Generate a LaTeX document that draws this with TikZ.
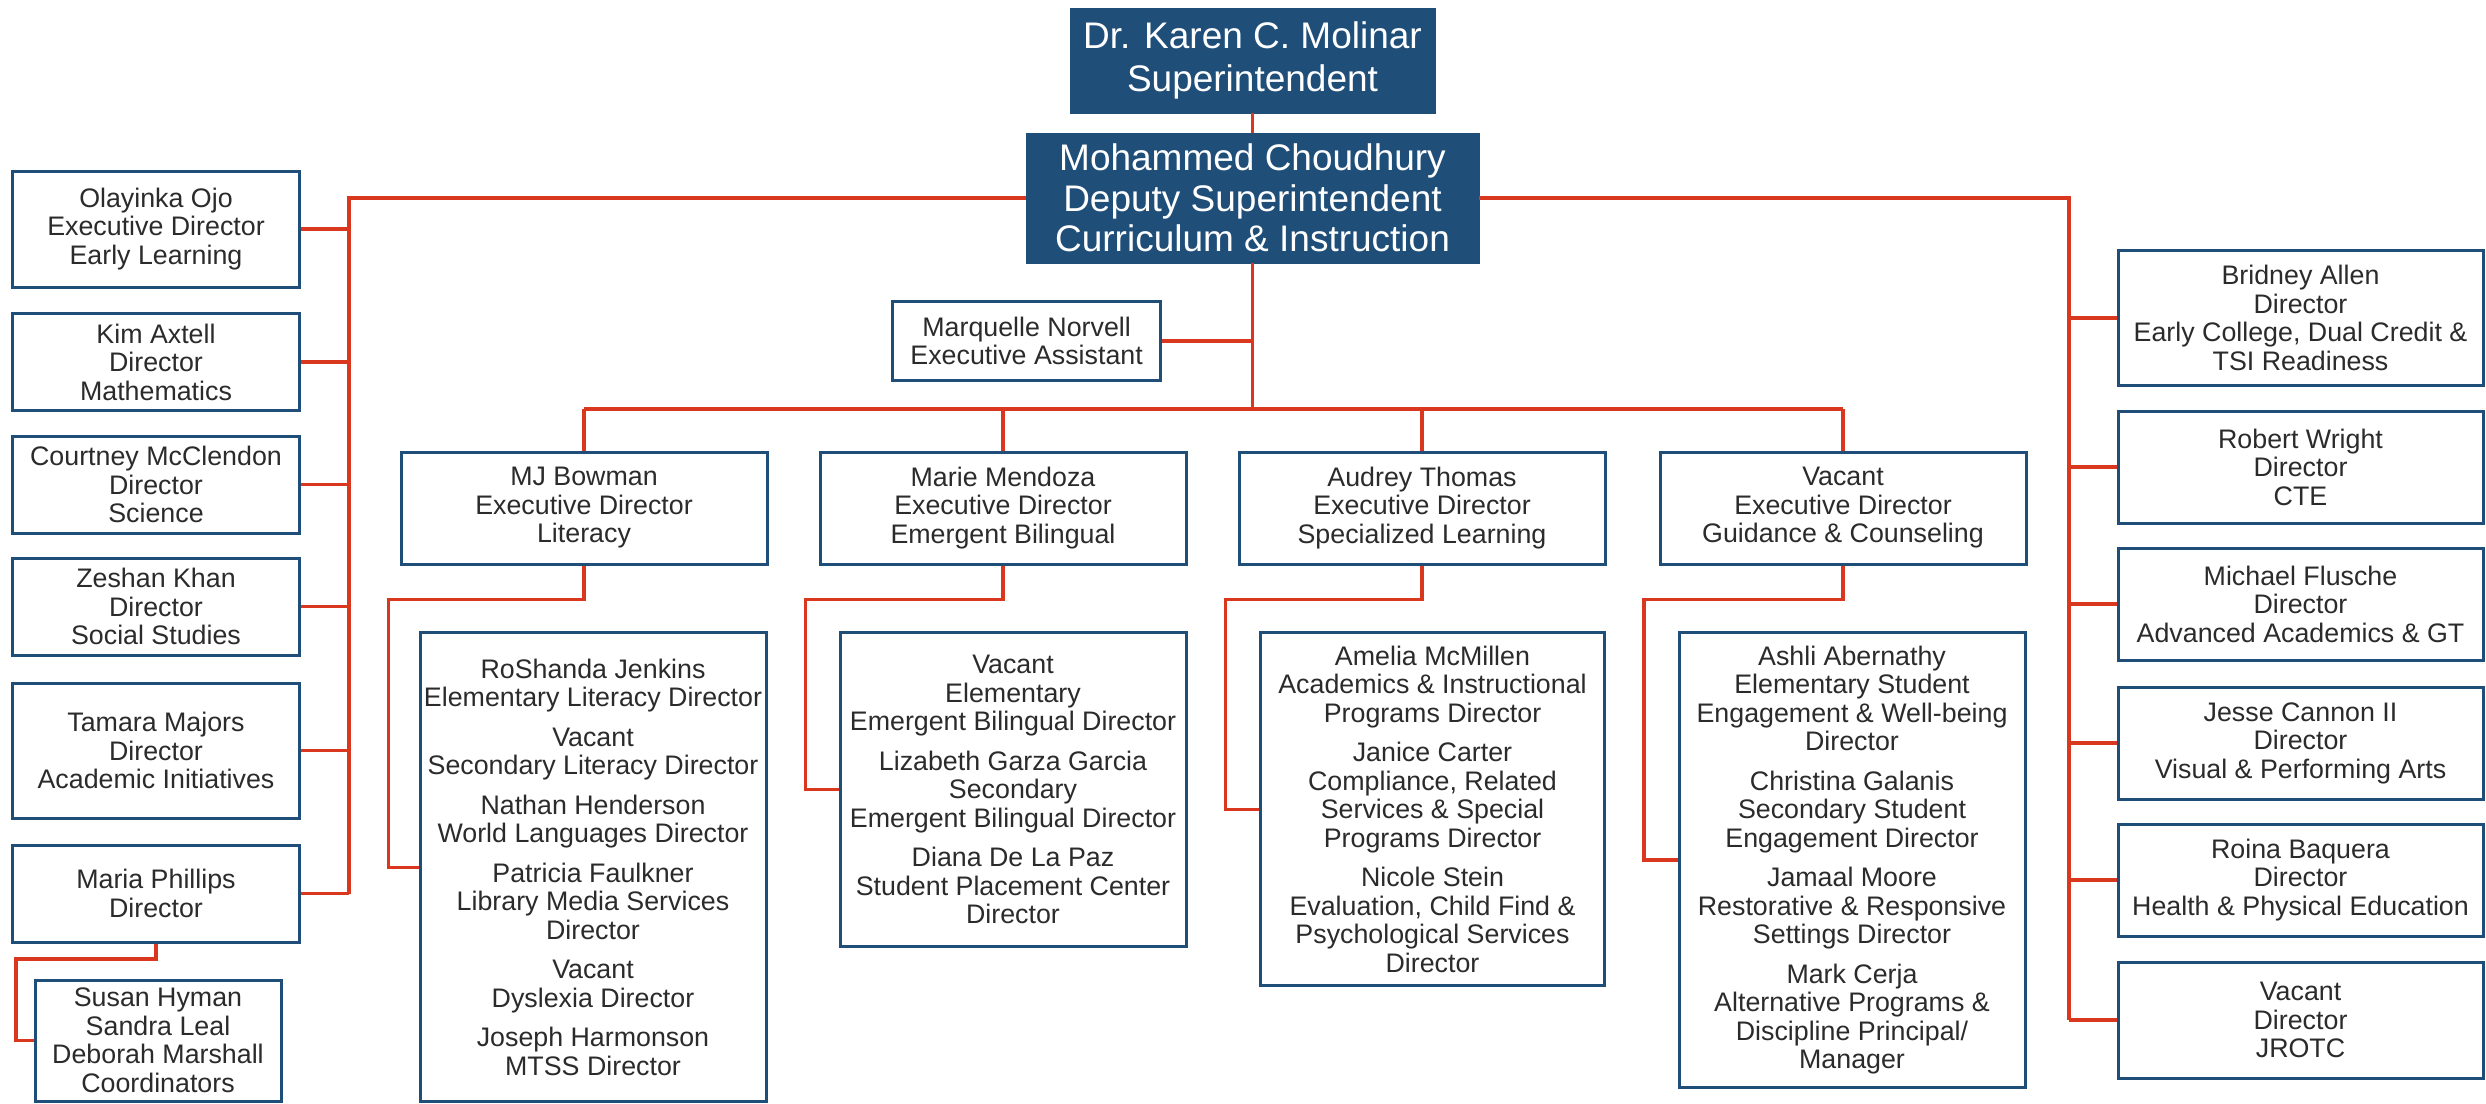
\documentclass[tikz,border=0pt]{standalone}
\usepackage{fontspec}
\setmainfont{Liberation Sans}
\definecolor{boxblue}{HTML}{1F4E79}
\definecolor{linered}{HTML}{D9381E}
\definecolor{txt}{HTML}{2B2B2B}
\begin{document}
\begin{tikzpicture}[x=1pt,y=-1pt,
  box/.style={draw=boxblue, line width=3pt, fill=white, inner sep=0pt, align=center, text=txt,
    font=\fontsize{26.8}{28.5}\selectfont},
  topbox/.style={draw=boxblue, fill=boxblue, inner sep=0pt, align=center, text=white},
  conn/.style={draw=linered, line width=3.5pt, line join=miter},
  lbox/.style={box, minimum width=287pt},
  rbox/.style={box, minimum width=365pt},
  ebox/.style={box, minimum width=366pt, minimum height=112pt},
  listbox/.style={box, minimum width=346pt}
]
\useasboundingbox (0,0) rectangle (2486,1103);

% top
\node[topbox, minimum width=365pt, minimum height=105pt, font=\fontsize{37}{42.5}\selectfont] (sup) at (1252.5,60.5)
  {Dr. Karen C. Molinar\\Superintendent};
\node[topbox, minimum width=453pt, minimum height=130pt, font=\fontsize{37}{40.5}\selectfont] (dep) at (1252.5,198)
  {Mohammed Choudhury\\Deputy Superintendent\\Curriculum \& Instruction};

% left column
\node[lbox, minimum height=116pt] (ojo) at (156,229) {Olayinka Ojo\\Executive Director\\Early Learning};
\node[lbox, minimum height=97pt] (axt) at (156,362) {Kim Axtell\\Director\\Mathematics};
\node[lbox, minimum height=97pt] (mcc) at (156,484.5) {Courtney McClendon\\Director\\Science};
\node[lbox, minimum height=97pt] (kha) at (156,606.5) {Zeshan Khan\\Director\\Social Studies};
\node[lbox, minimum height=135pt] (maj) at (156,750.5) {Tamara Majors\\Director\\Academic Initiatives};
\node[lbox, minimum height=97pt] (phi) at (156,893.5) {Maria Phillips\\Director};
\node[box, minimum width=246pt, minimum height=121pt] (hym) at (158,1040.5) {Susan Hyman\\Sandra Leal\\Deborah Marshall\\Coordinators};

% right column
\node[rbox, minimum height=135pt] (all) at (2300.5,318) {Bridney Allen\\Director\\Early College, Dual Credit \&\\TSI Readiness};
\node[rbox, minimum height=112pt] (wri) at (2300.5,467) {Robert Wright\\Director\\CTE};
\node[rbox, minimum height=112pt] (flu) at (2300.5,604) {Michael Flusche\\Director\\Advanced Academics \& GT};
\node[rbox, minimum height=112pt] (can) at (2300.5,743) {Jesse Cannon II\\Director\\Visual \& Performing Arts};
\node[rbox, minimum height=112pt] (baq) at (2300.5,880) {Roina Baquera\\Director\\Health \& Physical Education};
\node[rbox, minimum height=116pt] (jro) at (2300.5,1020) {Vacant\\Director\\JROTC};

% executive assistant
\node[box, minimum width=268pt, minimum height=79pt] (ea) at (1026.6,341) {Marquelle Norvell\\Executive Assistant};

% executive directors
\node[ebox] (mj) at (584,508) {MJ Bowman\\Executive Director\\Literacy};
\node[ebox] (mm) at (1003,508) {Marie Mendoza\\Executive Director\\Emergent Bilingual};
\node[ebox] (at) at (1422,508) {Audrey Thomas\\Executive Director\\Specialized Learning};
\node[ebox] (vg) at (1843,508) {Vacant\\Executive Director\\Guidance \& Counseling};

% lists
\node[listbox, minimum height=469pt] (l1) at (593,867.3)
  {RoShanda Jenkins\\Elementary Literacy Director\\[11pt]
   Vacant\\Secondary Literacy Director\\[11pt]
   Nathan Henderson\\World Languages Director\\[11pt]
   Patricia Faulkner\\Library Media Services\\Director\\[11pt]
   Vacant\\Dyslexia Director\\[11pt]
   Joseph Harmonson\\MTSS Director};
\node[listbox, minimum height=314pt] (l2) at (1013,789.5)
  {Vacant\\Elementary\\Emergent Bilingual Director\\[11pt]
   Lizabeth Garza Garcia\\Secondary\\Emergent Bilingual Director\\[11pt]
   Diana De La Paz\\Student Placement Center\\Director};
\node[listbox, minimum width=344pt, minimum height=353pt] (l3) at (1432.5,809.3)
  {Amelia McMillen\\Academics \& Instructional\\Programs Director\\[11pt]
   Janice Carter\\Compliance, Related\\Services \& Special\\Programs Director\\[11pt]
   Nicole Stein\\Evaluation, Child Find \&\\Psychological Services\\Director};
\node[listbox, minimum height=455pt] (l4) at (1852,860.1)
  {Ashli Abernathy\\Elementary Student\\Engagement \& Well-being\\Director\\[11pt]
   Christina Galanis\\Secondary Student\\Engagement Director\\[11pt]
   Jamaal Moore\\Restorative \& Responsive\\Settings Director\\[11pt]
   Mark Cerja\\Alternative Programs \&\\Discipline Principal/\\Manager};

% connectors
\draw[conn] (sup.south) -- (dep.north);

\coordinate (lb) at (349,0);
\draw[conn] (dep.west) -| (lb |- phi.east);
\foreach \n in {ojo,axt,mcc,kha,maj,phi} \draw[conn] (\n.east) -- (\n.east -| lb);
\coordinate (ms) at (16,959);
\draw[conn] (phi.south) |- (ms) |- (hym.west);

\coordinate (rb) at (2069,0);
\draw[conn] (dep.east) -| (rb |- jro.west);
\foreach \n in {all,wri,flu,can,baq,jro} \draw[conn] (\n.west) -- (\n.west -| rb);

\coordinate (busy) at (0,409);
\draw[conn] (dep.south) -- (dep.south |- busy);
\draw[conn] (ea.east) -- (ea.east -| dep.south);
\draw[conn] (mj.north |- busy) -- (vg.north |- busy);
\foreach \n in {mj,mm,at,vg} \draw[conn] (\n.north) -- (\n.north |- busy);

\coordinate (e1) at (388.4,599.3);
\coordinate (e2) at (805.4,599.3);
\coordinate (e3) at (1225.6,599.3);
\coordinate (e4) at (1644,599.3);
\draw[conn] (mj.south) |- (e1) |- (l1.west);
\draw[conn] (mm.south) |- (e2) |- (l2.west);
\draw[conn] (at.south) |- (e3) |- (l3.west);
\draw[conn] (vg.south) |- (e4) |- (l4.west);
\end{tikzpicture}
\end{document}
